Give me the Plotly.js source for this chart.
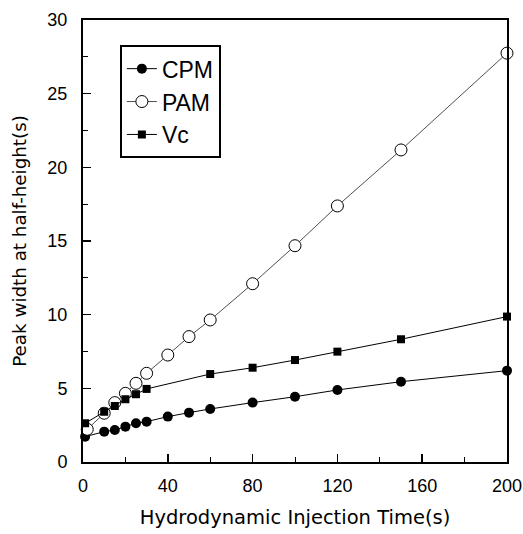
<!DOCTYPE html>
<html>
<head>
<meta charset="utf-8">
<script src="https://cdn.plot.ly/plotly-3.0.1.min.js"></script>
<style>html,body{margin:0;padding:0;background:#fff;}#chart{width:523px;height:534px;}</style>
</head>
<body>
<div id="chart"></div>
<script>
// Data
const xCPM = [1, 10, 15, 20, 25, 30, 40, 50, 60, 80, 100, 120, 150, 200];
const yCPM = [1.72, 2.06, 2.17, 2.40, 2.63, 2.74, 3.08, 3.35, 3.60, 4.03, 4.43, 4.89, 5.45, 6.20];

const xPAM = [2, 10, 15, 20, 25, 30, 40, 50, 60, 80, 100, 120, 150, 200];
const yPAM = [2.22, 3.31, 4.03, 4.66, 5.34, 6.02, 7.26, 8.51, 9.64, 12.10, 14.68, 17.38, 21.18, 27.75];

const xVc = [1, 10, 15, 20, 25, 30, 60, 80, 100, 120, 150, 200];
const yVc = [2.63, 3.41, 3.80, 4.26, 4.60, 4.96, 5.97, 6.40, 6.92, 7.49, 8.33, 9.87];

const xTickVals = [0, 40, 80, 120, 160, 200];
const yTickVals = [0, 5, 10, 15, 20, 25, 30];

const FONT = "Liberation Sans, Arial, Helvetica, sans-serif";
const TFONT = "DejaVu Sans, Liberation Sans, sans-serif";

const traces = [
  {
    name: "CPM", x: xCPM, y: yCPM, type: "scatter", mode: "lines+markers",
    line: {color: "#000", width: 1},
    marker: {symbol: "circle", size: 10, color: "#000"},
    cliponaxis: false
  },
  {
    name: "PAM", x: xPAM, y: yPAM, type: "scatter", mode: "lines+markers",
    line: {color: "#222", width: 0.8},
    marker: {symbol: "circle", size: 12, color: "#fff", line: {color: "#000", width: 1}},
    cliponaxis: false
  },
  {
    name: "Vc", x: xVc, y: yVc, type: "scatter", mode: "lines+markers",
    line: {color: "#000", width: 1},
    marker: {symbol: "square", size: 8, color: "#000"},
    cliponaxis: false
  }
];

const layout = {
  width: 523, height: 534,
  margin: {l: 83, r: 16, t: 20, b: 72},
  paper_bgcolor: "#fff", plot_bgcolor: "#fff",
  font: {family: FONT, color: "#000", size: 18},
  showlegend: true,
  legend: {
    x: 0.087, y: 0.943, xanchor: "left", yanchor: "top",
    bordercolor: "#000", borderwidth: 2, bgcolor: "#fff",
    font: {family: FONT, size: 23, color: "#000"},
    itemwidth: 30
  },
  xaxis: {
    range: [0, 200],
    tickmode: "array", tickvals: xTickVals,
    ticks: "inside", ticklen: 8, tickwidth: 1.5, tickcolor: "#000",
    minor: {dtick: 20, ticks: "inside", ticklen: 5, tickwidth: 1, tickcolor: "#000", showgrid: false},
    showline: true, linecolor: "#000", linewidth: 2, mirror: true,
    showgrid: false, zeroline: false,
    tickfont: {size: 18, family: FONT, color: "#000"},
    ticklabelstandoff: 6,
    title: {text: "Hydrodynamic Injection Time(s)", font: {size: 19.5, family: TFONT, color: "#000"}, standoff: 16}
  },
  yaxis: {
    range: [0, 30],
    tickmode: "array", tickvals: yTickVals,
    ticks: "inside", ticklen: 8, tickwidth: 1.5, tickcolor: "#000",
    minor: {dtick: 2.5, ticks: "inside", ticklen: 5, tickwidth: 1, tickcolor: "#000", showgrid: false},
    showline: true, linecolor: "#000", linewidth: 2, mirror: true,
    showgrid: false, zeroline: false,
    tickfont: {size: 18, family: FONT, color: "#000"},
    ticklabelstandoff: 10,
    title: {text: "Peak width at half-height(s)", font: {size: 18.3, family: TFONT, color: "#000"}, standoff: 16}
  }
};

Plotly.newPlot("chart", traces, layout, {displayModeBar: false, staticPlot: true});
</script>
</body>
</html>
